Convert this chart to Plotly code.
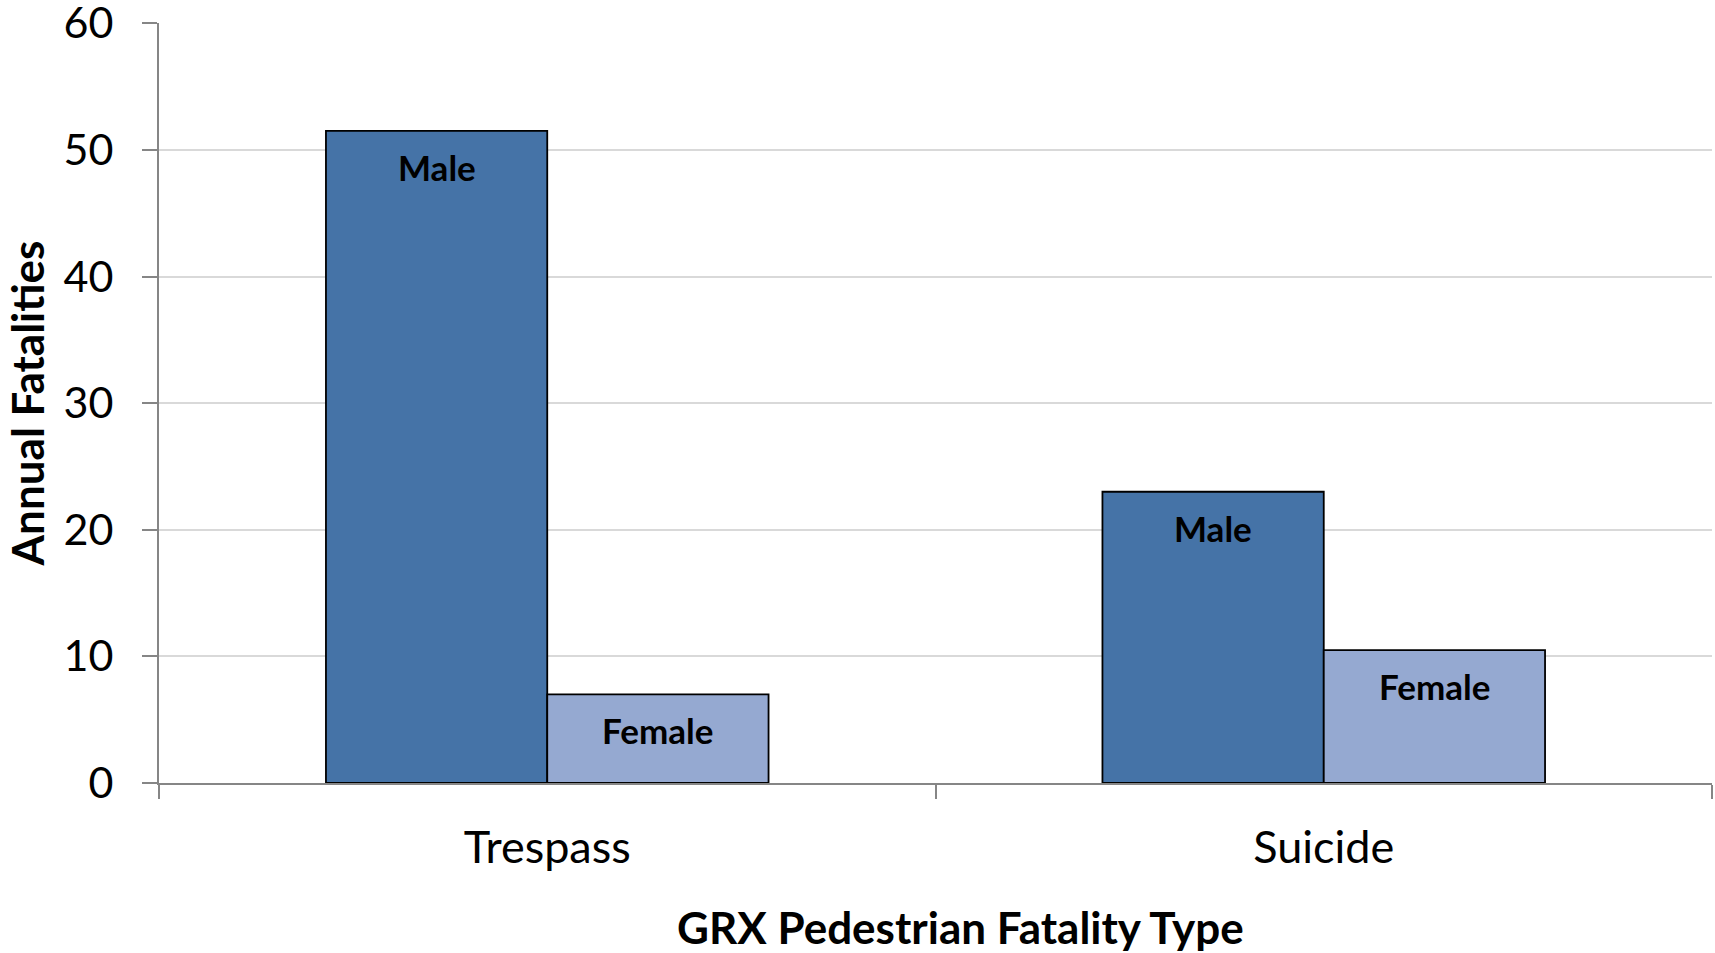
import plotly.graph_objects as go

categories = ["Trespass", "Suicide"]
male = [51.5, 23.0]
female = [7.0, 10.5]
series_names = ["Male", "Female"]
y_ticks = [0, 10, 20, 30, 40, 50, 60]

MALE_COLOR = "#4573A7"
FEMALE_COLOR = "#95A9D1"
FONT = "Lato"
BARGAP = 0.43

fig = go.Figure()
for name, vals, col in [(series_names[0], male, MALE_COLOR), (series_names[1], female, FEMALE_COLOR)]:
    fig.add_trace(go.Bar(
        x=categories, y=vals, name=name,
        marker=dict(color=col, line=dict(color="#000000", width=1.8)),
        hoverinfo="skip",
    ))

# in-bar labels near the top of each bar
half = (1 - BARGAP) / 2
for si, (name, vals) in enumerate([(series_names[0], male), (series_names[1], female)]):
    offset = -half / 2 if si == 0 else half / 2
    for ci, v in enumerate(vals):
        fig.add_annotation(
            x=ci + offset, y=v, xref="x", yref="y",
            text="<b>" + name + "</b>", showarrow=False,
            yanchor="middle", yshift=-36,
            font=dict(family=FONT, size=35, color="#000000"),
        )

# x-axis title (slightly right of plot centre, as in the original)
fig.add_annotation(
    x=0.5158, y=0, xref="paper", yref="paper",
    text="<b>GRX Pedestrian Fatality Type</b>", showarrow=False,
    xanchor="center", yanchor="middle", yshift=-144,
    font=dict(family=FONT, size=44, color="#000000"),
)

fig.update_layout(
    width=1715, height=953,
    margin=dict(l=159, r=3, t=23, b=170, autoexpand=False),
    paper_bgcolor="white", plot_bgcolor="white",
    barmode="group", bargap=BARGAP, bargroupgap=0,
    showlegend=False,
    font=dict(family=FONT, color="#000000"),
)
fig.update_xaxes(
    type="category", range=[-0.5, 1.5], automargin=False,
    showline=True, linecolor="#868686", linewidth=2,
    ticks="outside", tickson="boundaries", ticklen=14, tickwidth=2, tickcolor="#868686",
    tickfont=dict(family=FONT, size=45, color="#000000"),
    ticklabelstandoff=24,
    showgrid=False,
)
fig.update_yaxes(
    range=[0, 60.02], tickvals=y_ticks, automargin=False,
    showline=True, linecolor="#868686", linewidth=2,
    ticks="outside", ticklen=15, tickwidth=2, tickcolor="#868686",
    tickfont=dict(family=FONT, size=43, color="#000000"),
    ticklabelstandoff=20, ticklabeloverflow="allow",
    showgrid=True, gridcolor="#D9D9D9", gridwidth=2,
    zeroline=False,
    title=dict(text="<b>Annual Fatalities</b>", font=dict(family=FONT, size=44, color="#000000"), standoff=5),
)

fig.write_html(
    "out.html",
    config={"displayModeBar": False},
    post_script="document.body.style.margin='0';document.body.style.overflow='hidden';",
)
